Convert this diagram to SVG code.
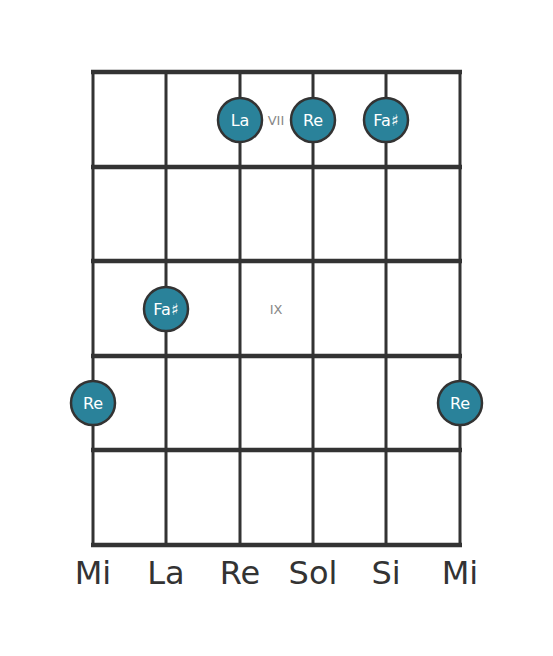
<svg xmlns="http://www.w3.org/2000/svg" width="553" height="656" viewBox="0 0 553 656">
<style>
.fret{stroke:#333;stroke-width:4.5;}
.str{stroke:#333;stroke-width:3;}
.dot circle{fill:#2a829a;stroke:#333;stroke-width:2.5;}
.dot text{fill:#fff;font-family:"DejaVu Sans",sans-serif;font-size:16px;text-anchor:middle;dominant-baseline:central;}
.pos{fill:#888;font-family:"DejaVu Sans",sans-serif;font-size:13px;text-anchor:middle;dominant-baseline:central;}
.name{fill:#333;font-family:"DejaVu Sans",sans-serif;font-size:32px;text-anchor:middle;}
</style>
<rect width="553" height="656" fill="#fff"/>
<g id="connectors">
<line class="str" x1="93" y1="72" x2="93" y2="545"/>
<line class="str" x1="166" y1="72" x2="166" y2="545"/>
<line class="str" x1="240" y1="72" x2="240" y2="545"/>
<line class="str" x1="313" y1="72" x2="313" y2="545"/>
<line class="str" x1="386" y1="72" x2="386" y2="545"/>
<line class="str" x1="460" y1="72" x2="460" y2="545"/>
<line class="fret" x1="91" y1="72" x2="462" y2="72"/>
<line class="fret" x1="91" y1="167" x2="462" y2="167"/>
<line class="fret" x1="91" y1="261" x2="462" y2="261"/>
<line class="fret" x1="91" y1="356" x2="462" y2="356"/>
<line class="fret" x1="91" y1="450" x2="462" y2="450"/>
<line class="fret" x1="91" y1="545" x2="462" y2="545"/>
</g>
<text class="pos" x="276" y="120">VII</text>
<text class="pos" x="276" y="309">IX</text>
<g id="n1" class="dot"><circle cx="240" cy="120" r="22"/><text x="240" y="120">La</text></g>
<g id="n2" class="dot"><circle cx="313" cy="120" r="22"/><text x="313" y="120">Re</text></g>
<g id="n3" class="dot"><circle cx="386" cy="120" r="22"/><text x="386" y="120">Fa♯</text></g>
<g id="n4" class="dot"><circle cx="166" cy="309" r="22"/><text x="166" y="309">Fa♯</text></g>
<g id="n5" class="dot"><circle cx="93" cy="403" r="22"/><text x="93" y="403">Re</text></g>
<g id="n6" class="dot"><circle cx="460" cy="403" r="22"/><text x="460" y="403">Re</text></g>
<g id="labels">
<text class="name" x="93" y="584">Mi</text>
<text class="name" x="166" y="584">La</text>
<text class="name" x="240" y="584">Re</text>
<text class="name" x="313" y="584">Sol</text>
<text class="name" x="386" y="584">Si</text>
<text class="name" x="460" y="584">Mi</text>
</g>
</svg>
